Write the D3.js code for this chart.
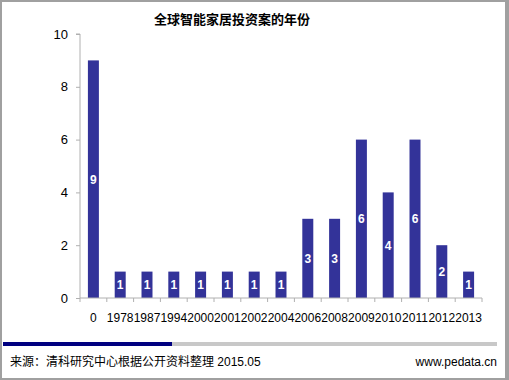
<!DOCTYPE html>
<html><head><meta charset="utf-8">
<script src="https://cdn.jsdelivr.net/npm/d3@7"></script>
<style>body{margin:0;background:#fff}svg{display:block}</style>
</head><body>
<script>
const categories = ["0","1978","1987","1994","2000","2001","2002","2004","2006","2008","2009","2010","2011","2012","2013"];
const values = [9,1,1,1,1,1,1,1,3,3,6,4,6,2,1];
const yTicks = [0,2,4,6,8,10];
const title = "全球智能家居投资案的年份";
const source = "来源：清科研究中心根据公开资料整理 2015.05";
const site = "www.pedata.cn";

const W = 509, H = 380;
const svg = d3.select("body").append("svg").attr("width", W).attr("height", H);
const font = "Arial, 'Liberation Sans', 'Noto Sans CJK SC', sans-serif";

// outer frame
svg.append("rect").attr("x",1).attr("y",1).attr("width",W-2).attr("height",H-2)
  .attr("fill","#fff").attr("stroke","#a0a0a0").attr("stroke-width",2);
svg.append("line").attr("x1",W-3).attr("x2",W-3).attr("y1",1).attr("y2",H-1).attr("stroke","#a0a0a0").attr("stroke-width",2);

const x0 = 80, x1 = 482, yTop = 34, yBot = 298;
const x = d3.scaleBand().domain(categories).range([x0, x1]).paddingInner(0.59).paddingOuter(0.295);
const y = d3.scaleLinear().domain([0,10]).range([yBot, yTop]);

// title
svg.append("text").attr("x",232).attr("y",24).attr("text-anchor","middle")
  .attr("font-family",font).attr("font-size",13).attr("font-weight","bold").attr("fill","#000").text(title);

// y axis
const yAxis = d3.axisLeft(y).tickValues(yTicks).tickSize(4).tickPadding(8).tickFormat(d3.format("d"));
const gy = svg.append("g").attr("transform",`translate(${x0},0)`).call(yAxis);
gy.select(".domain").attr("stroke","#b0b0b0").attr("d",`M-4,${yTop}H0V${yBot}`);
gy.selectAll(".tick line").attr("stroke","#b0b0b0");
gy.selectAll(".tick text").attr("font-family",font).attr("font-size",13).attr("fill","#000");

// bars
svg.append("g").selectAll("rect").data(values).join("rect")
  .attr("x",(d,i)=>x(categories[i])).attr("width",x.bandwidth())
  .attr("y",d=>y(d)).attr("height",d=>yBot-y(d)).attr("fill","#333399");

// x axis
const bw = x.step();
const gx = svg.append("g").attr("transform",`translate(0,${yBot})`);
gx.append("line").attr("x1",x0).attr("x2",x1).attr("y1",0).attr("y2",0).attr("stroke","#b0b0b0");
const bounds = d3.range(categories.length+1).map(i=>x0+i*bw);
gx.selectAll("line.t").data(bounds).join("line").attr("class","t")
  .attr("x1",d=>d).attr("x2",d=>d).attr("y1",0).attr("y2",4).attr("stroke","#b0b0b0");
gx.selectAll("text").data(categories).join("text")
  .attr("x",d=>x(d)+x.bandwidth()/2).attr("y",24).attr("text-anchor","middle")
  .attr("font-family",font).attr("font-size",12).attr("fill","#000").text(d=>d);

// value labels
svg.append("g").selectAll("text").data(values).join("text")
  .attr("x",(d,i)=>x(categories[i])+x.bandwidth()/2)
  .attr("y",d=>(y(d)+yBot)/2).attr("dy","0.36em").attr("text-anchor","middle")
  .attr("font-family",font).attr("font-size",12).attr("font-weight","bold").attr("fill","#fff").text(d=>d);

// footer bar
svg.append("rect").attr("x",172).attr("y",342).attr("width",325).attr("height",4).attr("fill","#c8c8c8");
svg.append("rect").attr("x",3).attr("y",342).attr("width",169).attr("height",4).attr("fill","#000080");

svg.append("text").attr("x",10).attr("y",366).attr("font-family",font).attr("font-size",12).attr("fill","#000").text(source);
svg.append("text").attr("x",497).attr("y",366).attr("text-anchor","end").attr("font-family",font).attr("font-size",12).attr("fill","#000").text(site);
</script>
</body></html>
